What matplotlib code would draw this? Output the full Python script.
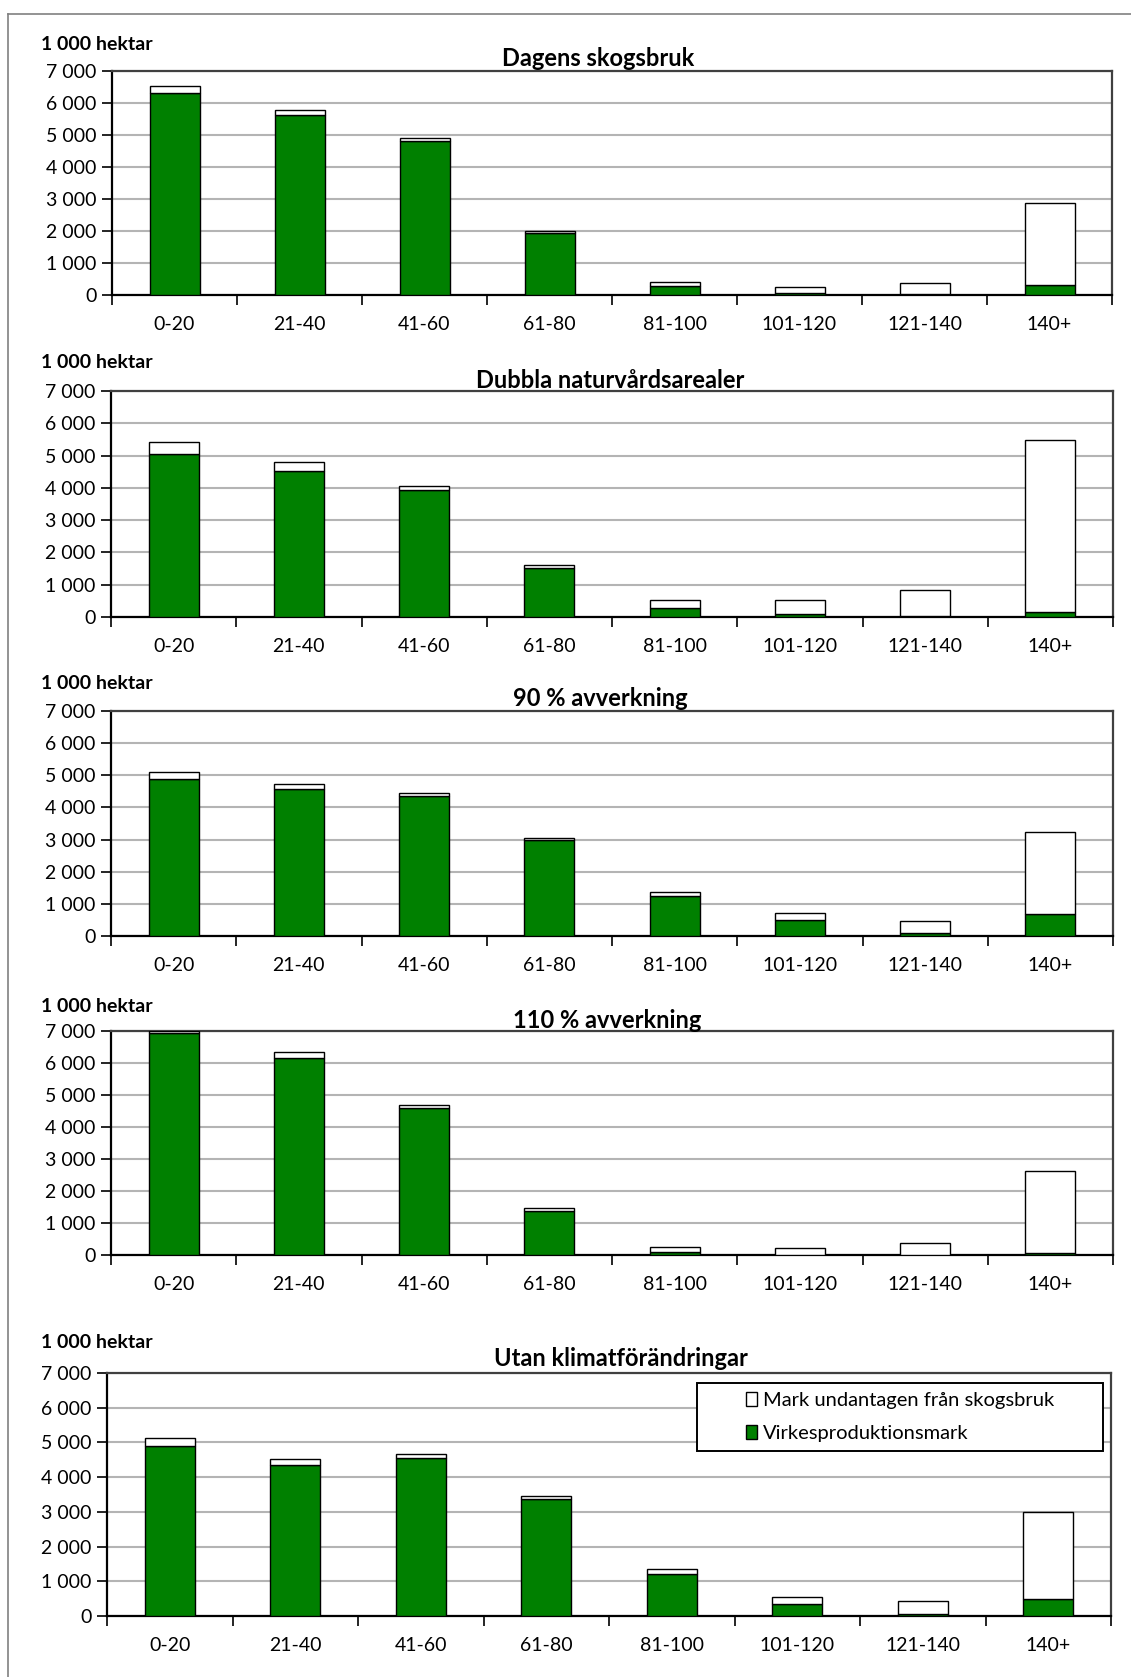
import matplotlib
matplotlib.use("Agg")
import matplotlib.pyplot as plt
from matplotlib.ticker import FuncFormatter, FixedLocator
from matplotlib.lines import Line2D
from matplotlib.patches import Patch, Rectangle

plt.rcParams['font.family'] = ['Lato', 'DejaVu Sans']

categories = ['0-20', '21-40', '41-60', '61-80', '81-100', '101-120', '121-140', '140+']

titles = ['Dagens skogsbruk', 'Dubbla naturvårdsarealer', '90 % avverkning',
          '110 % avverkning', 'Utan klimatförändringar']

virke_dagens = [6300, 5620, 4810, 1930, 280, 50, 20, 310]
undant_dagens = [240, 160, 90, 80, 137, 210, 365, 2575]

virke_dubbla = [5050, 4530, 3930, 1530, 290, 80, 30, 145]
undant_dubbla = [380, 270, 120, 90, 250, 460, 800, 5335]

virke_90 = [4870, 4570, 4350, 2980, 1240, 510, 90, 675]
undant_90 = [240, 155, 95, 65, 140, 207, 388, 2575]

virke_110 = [6950, 6170, 4580, 1380, 95, 10, 10, 70]
undant_110 = [40, 170, 100, 90, 145, 198, 365, 2570]

virke_utan = [4890, 4355, 4555, 3375, 1220, 355, 65, 480]
undant_utan = [240, 180, 125, 70, 125, 192, 366, 2520]

virke = [virke_dagens, virke_dubbla, virke_90, virke_110, virke_utan]
undant = [undant_dagens, undant_dubbla, undant_90, undant_110, undant_utan]

y_ticks = [0, 1000, 2000, 3000, 4000, 5000, 6000, 7000]
unit_label = '1 000 hektar'
legend_labels = ['Mark undantagen från skogsbruk', 'Virkesproduktionsmark']

W, H = 1131, 1677
fig = plt.figure(figsize=(W / 100, H / 100), dpi=100)

# axes boxes in pixels: left, right, top, bottom
boxes = [(112, 1112, 71, 295), (111, 1113, 391, 617), (111, 1113, 711, 936),
         (111, 1113, 1031, 1255), (107, 1111, 1373, 1616)]
unit_pos = [(41, 45), (41, 363), (41, 683), (41, 1006), (41, 1343)]
title_pos = [(598, 58), (610, 381), (600, 698), (607, 1020), (621, 1358)]

green = '#008000'

def fmt(v, pos):
    return f'{int(v):,}'.replace(',', ' ')

x = list(range(len(categories)))
for i in range(5):
    l, r, t, b = boxes[i]
    ax = fig.add_axes([l / W, 1 - b / H, (r - l) / W, (b - t) / H])
    ax.bar(x, virke[i], width=0.4, color=green, edgecolor='black', linewidth=1.0, zorder=3,
           label=legend_labels[1])
    ax.bar(x, undant[i], bottom=virke[i], width=0.4, color='white', edgecolor='black',
           linewidth=1.0, zorder=3, label=legend_labels[0])
    ax.set_xlim(-0.5, len(categories) - 0.5)
    ax.set_ylim(0, 7000)
    ax.set_yticks(y_ticks)
    ax.yaxis.set_major_formatter(FuncFormatter(fmt))
    ax.grid(axis='y', color='#b4b4b4', linewidth=1.5, zorder=0)
    ax.set_axisbelow(True)
    ax.xaxis.set_major_locator(FixedLocator([k - 0.5 for k in range(len(categories) + 1)]))
    ax.xaxis.set_minor_locator(FixedLocator(x))
    ax.set_xticklabels([], minor=False)
    ax.set_xticklabels(categories, minor=True)
    ax.tick_params(axis='x', which='major', length=7, width=1.2, direction='out', color='black')
    ax.tick_params(axis='x', which='minor', length=0, pad=15, labelsize=14)
    ax.tick_params(axis='y', length=7, width=1.2, direction='out', color='black', labelsize=14, pad=4)
    for s in ['left', 'bottom']:
        ax.spines[s].set_color('black')
        ax.spines[s].set_linewidth(1.6)
    for s in ['top', 'right']:
        ax.spines[s].set_color('#404040')
        ax.spines[s].set_linewidth(1.6)
    ux, uy = unit_pos[i]
    fig.text(ux / W, 1 - uy / H, unit_label, fontsize=14, fontweight='bold', ha='left', va='center')
    tx, ty = title_pos[i]
    fig.text(tx / W, 1 - ty / H, titles[i], fontsize=17, fontweight='bold', ha='center', va='center')
    if i == 4:
        handles = [Patch(facecolor='white', edgecolor='black', linewidth=1.0),
                   Patch(facecolor=green, edgecolor='black', linewidth=1.0)]
        leg = ax.legend(handles, legend_labels, loc='center left',
                        bbox_to_anchor=(746 / W, 1 - 1417 / H), bbox_transform=fig.transFigure,
                        borderaxespad=0, frameon=False,
                        fontsize=14.5, handlelength=0.55, handleheight=0.7, handletextpad=0.3,
                        labelspacing=0.78, borderpad=0)
        leg.set_zorder(10)
        box = Rectangle((697 / W, 1 - 1451 / H), (1103 - 697) / W, (1451 - 1383) / H,
                        transform=fig.transFigure, facecolor='white', edgecolor='black',
                        linewidth=1.4, zorder=9)
        ax.add_artist(box)
        box.set_clip_on(False)

# outer border of the figure
fig.add_artist(Line2D([8 / W, 1], [1 - 14 / H, 1 - 14 / H], color='#808080', linewidth=1.2,
                      transform=fig.transFigure))
fig.add_artist(Line2D([8 / W, 8 / W], [1 - 14 / H, 0], color='#808080', linewidth=1.2,
                      transform=fig.transFigure))

fig.savefig('out.png', dpi=100)
